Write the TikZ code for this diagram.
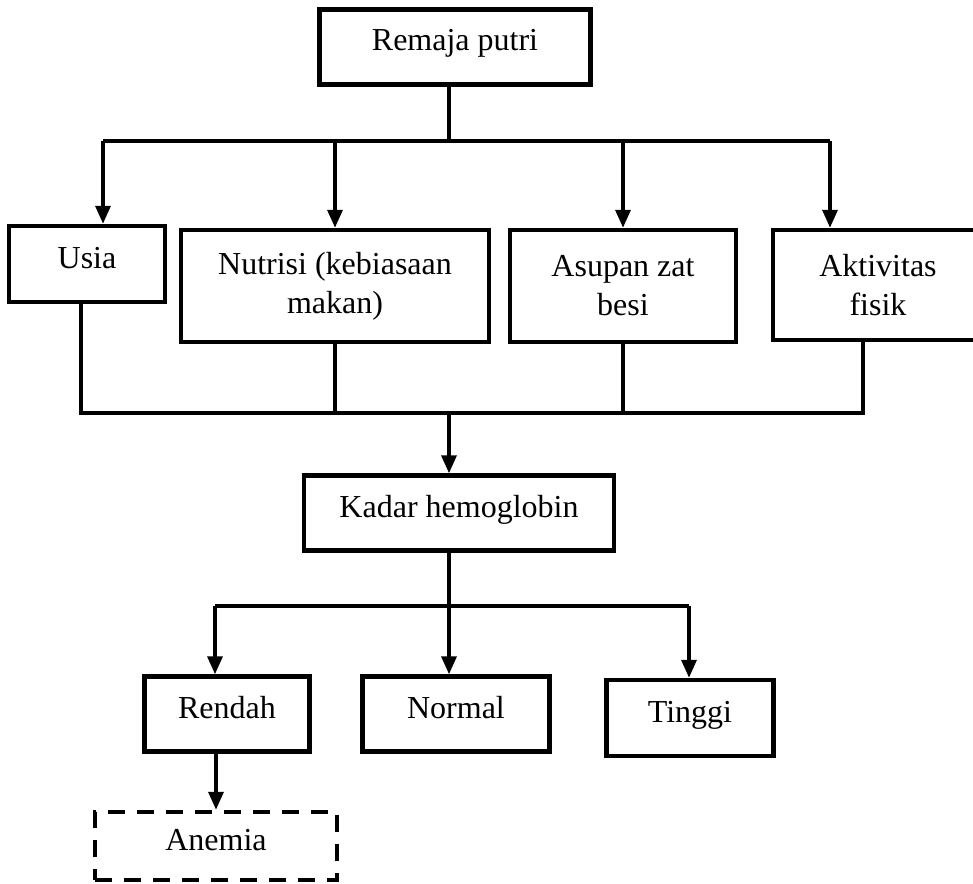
\documentclass[tikz,border=0pt]{standalone}
\usepackage{fontspec}
\setmainfont{Liberation Serif}
\usetikzlibrary{arrows.meta}

\begin{document}
\begin{tikzpicture}[x=1pt, y=-1pt, >={Triangle[length=18pt,width=15pt]},
  kotak/.style={draw, rectangle, line width=4.5pt, align=center, inner sep=0pt, font=\fontsize{32}{39}\selectfont},
  satu/.style={kotak, text height=22pt, text depth=14pt},
  garis/.style={line width=3.5pt}]
\useasboundingbox (0,0) rectangle (973,883);
% kotak
\node [satu, minimum width=271pt, minimum height=75pt] (remaja) at (455,47) {Remaja putri};
\node [satu, minimum width=156pt, minimum height=76pt] (usia) at (87,264) {Usia};
\node [kotak, minimum width=308pt, minimum height=112pt] (nutrisi) at (335,286) {Nutrisi (kebiasaan\\makan)};
\node [kotak, minimum width=226pt, minimum height=112pt] (asupan) at (623,286) {Asupan zat\\besi};
\node [kotak, minimum width=210pt, minimum height=110pt] (aktivitas) at (878,285) {Aktivitas\\fisik};
\node [satu, minimum width=310pt, minimum height=75pt] (kadar) at (459,513) {Kadar hemoglobin};
\node [satu, minimum width=165pt, minimum height=75pt] (rendah) at (227,714) {Rendah};
\node [satu, minimum width=187pt, minimum height=75pt] (normal) at (456,714) {Normal};
\node [satu, minimum width=167pt, minimum height=76pt] (tinggi) at (690,718) {Tinggi};
\node [satu, dash pattern=on 17pt off 12pt, minimum width=242pt, minimum height=68pt] (anemia) at (216,846) {Anemia};
% titik cabang
\coordinate (atasL) at (103,141);
\coordinate (atasR) at (830,141);
\coordinate (tengah) at (449,141);
\coordinate (bawahL) at (81,413);
\coordinate (bawahR) at (863,413);
\coordinate (hbL) at (215,606);
\coordinate (hbR) at (689,606);
% garis atas
\draw [garis] (remaja.south -| tengah) -- (tengah);
\draw [garis] (atasL) -- (atasR);
\draw [garis, ->] (atasL) -- (atasL |- usia.north);
\draw [garis, ->] (nutrisi.north |- atasL) -- (nutrisi.north);
\draw [garis, ->] (asupan.north |- atasL) -- (asupan.north);
\draw [garis, ->] (atasR) -- (atasR |- aktivitas.north);
% garis tengah
\draw [garis] (bawahL |- usia.south) -- (bawahL) -- (bawahR) -- (bawahR |- aktivitas.south);
\draw [garis] (nutrisi.south) -- (nutrisi.south |- bawahL);
\draw [garis] (asupan.south) -- (asupan.south |- bawahL);
\draw [garis, ->] (tengah |- bawahL) -- (tengah |- kadar.north);
% garis bawah
\draw [garis] (tengah |- kadar.south) -- (tengah |- hbL);
\draw [garis] (hbL) -- (hbR);
\draw [garis, ->] (hbL) -- (hbL |- rendah.north);
\draw [garis, ->] (tengah |- hbL) -- (tengah |- normal.north);
\draw [garis, ->] (hbR) -- (hbR |- tinggi.north);
\draw [garis, ->] (anemia.north |- rendah.south) -- (anemia.north);
\end{tikzpicture}
\end{document}
